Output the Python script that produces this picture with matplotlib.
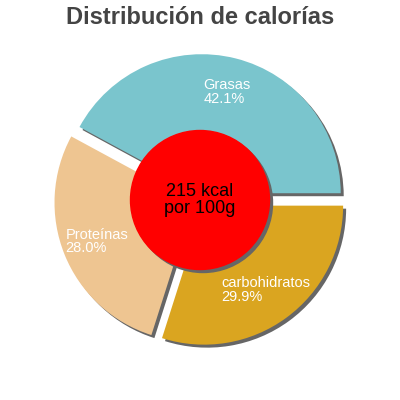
import matplotlib.pyplot as plt
from matplotlib.patches import Circle

# datos del grafico
nutrientes = ['Grasas', 'Proteínas', 'carbohidratos']
porcentajes = [42.1, 28.0, 29.9]
colores = ['#7ac5cd', '#eec591', '#daa520']
kcal = 215

plt.rcParams['font.family'] = ['Liberation Sans', 'DejaVu Sans']

fig = plt.figure(figsize=(4, 4), dpi=100)
ax = fig.add_axes([0, 0, 1, 1])

centro = (200, 200)
radio = 139
separacion = [7, 7, 7]  # en pixeles (unidades de datos)
sombra = 3

# sombra gris debajo de las porciones
ax.pie(porcentajes, colors=['#666666'] * 3, startangle=0, counterclock=True,
       explode=separacion, radius=radio,
       center=(centro[0] + sombra, centro[1] - sombra),
       wedgeprops={'linewidth': 0})

etiquetas = [f'{n}\n{p:.1f}%' for n, p in zip(nutrientes, porcentajes)]
wedges, textos = ax.pie(porcentajes, colors=colores, startangle=0, counterclock=True,
                        explode=separacion, radius=radio, center=centro,
                        labels=etiquetas, labeldistance=0.75,
                        textprops={'color': 'white', 'fontsize': 10.5},
                        wedgeprops={'linewidth': 0})
for t in textos:
    t.set_ha('center')
    t.set_va('center')
    t.set_multialignment('left')
    t.set_linespacing(0.95)

# circulo central con sombra
ax.add_patch(Circle((centro[0] + sombra, centro[1] - sombra), radio * 0.5,
                    color='#666666', zorder=3))
ax.add_patch(Circle(centro, radio * 0.5, color='#ff0000', zorder=4))
ax.text(centro[0], centro[1], f'{kcal} kcal\npor 100g', ha='center', va='center',
        fontsize=13, color='black', zorder=5, linespacing=1.0)

ax.set_xlim(0, 400)
ax.set_ylim(0, 400)
ax.set_aspect('equal')
ax.axis('off')

fig.text(0.5, 1 - 17 / 400, 'Distribución de calorías', ha='center', va='center',
         fontsize=17, fontweight='bold', color='#444444')

fig.savefig('out.png', dpi=100)
